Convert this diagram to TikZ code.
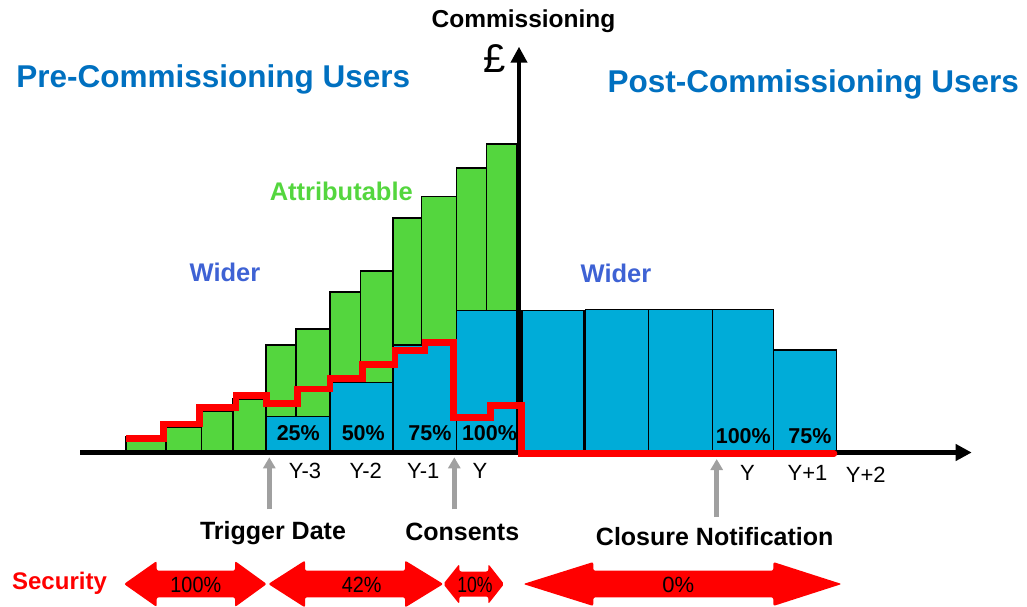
\documentclass[tikz,border=0pt]{standalone}
\usepackage{fontspec}
\setmainfont{Liberation Sans}
\usetikzlibrary{arrows.meta}
\definecolor{barblue}{RGB}{0,172,216}
\definecolor{bargreen}{RGB}{84,214,62}
\definecolor{titleblue}{RGB}{0,112,192}
\definecolor{widerblue}{RGB}{62,98,212}
\definecolor{arrgray}{RGB}{160,160,160}
\definecolor{secred}{RGB}{255,0,0}
\newcommand\secarr[6]{%
  \fill[secred, rounded corners=2pt] (#1,584) -- (#2,584-#5) -- (#2,584-#6) -- (#3,584-#6) -- (#3,584-#5) -- (#4,584) -- (#3,584+#5) -- (#3,584+#6) -- (#2,584+#6) -- (#2,584+#5) -- cycle;}
\tikzset{
  lbl/.style={anchor=base, inner sep=0pt, outer sep=0pt},
  title/.style={lbl, text=titleblue, font=\fontsize{31.5}{36}\selectfont\bfseries},
  event/.style={lbl, font=\fontsize{25}{30}\selectfont\bfseries},
  yearlbl/.style={lbl, font=\fontsize{22}{25}\selectfont},
  pctlbl/.style={lbl, font=\fontsize{21.5}{25}\selectfont\bfseries},
  seclbl/.style={lbl, font=\fontsize{22}{25}\selectfont},
  widerlbl/.style={lbl, text=widerblue, font=\fontsize{25.5}{30}\selectfont\bfseries},
  greenbar/.style={draw=black, fill=bargreen, line width=1.1pt},
  bluebar/.style={draw=black, fill=barblue, line width=1.1pt},
  axisline/.style={line width=4.6pt, -{Triangle[length=16pt,width=16pt]}},
  grayarrow/.style={arrgray, line width=5pt, -{Triangle[length=11pt,width=12pt]}},
  redline/.style={secred, line width=6.5pt, line cap=round}
}
\begin{document}
\begin{tikzpicture}[x=1pt,y=-1pt]
\useasboundingbox (0,0) rectangle (1027,606);
% green bars
\foreach \a/\b/\t in {126/166/437, 166/201.7/427.7, 201.7/233/411.7, 233/266/399, 266/296/345, 296/330/329, 330/360.7/292, 360.7/393/271, 393/421.7/218, 421.7/456.7/196.7, 456.7/486.7/168, 486.7/517/144}
  \draw[greenbar] (\a,452) rectangle (\b,\t);
% blue bars left
\foreach \a/\b/\t in {266/330/416.7, 330/393/382.7, 393/456.7/345, 456.7/517/310.7}
  \draw[bluebar] (\a,452) rectangle (\b,\t);
% blue bars right
\foreach \a/\b/\t in {522/584/310.7, 585.5/648.3/309.3, 648.3/712.3/309.3, 712.3/773.3/309.3, 773.3/836.7/350}
  \draw[bluebar] (\a,452) rectangle (\b,\t);
% axes
\coordinate (xs) at (80,452.5);
\coordinate (xe) at (971.7,452.5);
\coordinate (ys) at (519,454.8);
\coordinate (ye) at (519,46.7);
\draw[axisline] (xs) -- (xe);
\draw[axisline] (ys) -- (ye);
% red security line
\draw[redline, line cap=butt] (126,438.3) -- (163.3,438.3) -- (163.3,424) -- (199.3,424) -- (199.3,407.3) -- (236,407.3) -- (236,395.7) -- (266.7,395.7) -- (266.7,403.3) -- (297.3,403.3) -- (297.3,389) -- (330,389) -- (330,378.3) -- (362.7,378.3) -- (362.7,364.3) -- (395,364.3) -- (395,350.7) -- (425,350.7) -- (425,342.7) -- (453.3,342.7) -- (453.3,417.3) -- (490.7,417.3) -- (490.7,405.3) -- (521.5,405.3) -- (521.5,453.5) -- (834,453.5);
\draw[redline] (830,453.5) -- (834,453.5);
% percentage labels in bars
\node[pctlbl] (p25) at (298.3,440) {25\%};
\node[pctlbl] (p50) at (363.3,440) {50\%};
\node[pctlbl] (p75) at (430,440) {75\%};
\node[pctlbl] (p100) at (489.5,440) {100\%};
\node[pctlbl] (q100) at (743.3,443.3) {100\%};
\node[pctlbl] (q75) at (810,443.3) {75\%};
% year labels
\node[yearlbl] (ym3) at (305,478.3) {Y-3};
\node[yearlbl] (ym2) at (365.8,478.3) {Y-2};
\node[yearlbl] (ym1) at (423.3,478.3) {Y-1};
\node[yearlbl] (y0) at (480,478.3) {Y};
\node[yearlbl] (yy) at (747.5,480) {Y};
\node[yearlbl] (yp1) at (807.5,480) {Y+1};
\node[yearlbl] (yp2) at (865.8,482) {Y+2};
% event arrows
\node[event] (trig) at (273,539.3) {Trigger Date};
\node[event] (cons) at (462.2,540) {Consents};
\node[event] (clos) at (714.7,545) {Closure Notification};
\coordinate (ta) at (269.3,509.3);
\coordinate (tb) at (269.3,457.3);
\coordinate (ca) at (454.3,509.3);
\coordinate (cb) at (454.3,457.3);
\coordinate (na) at (716.7,517);
\coordinate (nb) at (716.7,459);
\draw[grayarrow] (ta) -- (tb);
\draw[grayarrow] (ca) -- (cb);
\draw[grayarrow] (na) -- (nb);
% titles
\node[event, font=\fontsize{24.5}{30}\selectfont\bfseries] (comm) at (523.5,27.3) {Commissioning};
\node[lbl, font=\fontsize{40}{44}\selectfont] (pound) at (495,72.7) {£};
\node[title] (pre) at (213.3,87.3) {Pre-Commissioning Users};
\node[title] (post) at (813.3,92.3) {Post-Commissioning Users};
\node[lbl, text=bargreen, font=\fontsize{25.5}{30}\selectfont\bfseries] (attr) at (341.3,200) {Attributable};
\node[widerlbl] (wl) at (225,281.5) {Wider};
\node[widerlbl] (wr) at (616,282.5) {Wider};
% security arrows
\node[lbl, text=secred, font=\fontsize{24}{28}\selectfont\bfseries] (sec) at (59.5,589.3) {Security};
\secarr{124}{156.7}{235}{266.7}{23}{13.3}
\secarr{268.3}{305}{405}{443.3}{23.5}{13.3}
\secarr{443.3}{459.3}{488.3}{504}{20}{12.5}
\secarr{523.3}{593.3}{773.3}{841.7}{22}{13.3}
\node[seclbl] (s100) at (195.8,592.3) {\scalebox{0.9}[1]{100\%}};
\node[seclbl] (s42) at (361.7,592.3) {\scalebox{0.9}[1]{42\%}};
\node[seclbl] (s10) at (475,592.3) {\scalebox{0.8}[1]{10\%}};
\node[seclbl] (s0) at (678.3,592.3) {0\%};
\end{tikzpicture}
\end{document}
